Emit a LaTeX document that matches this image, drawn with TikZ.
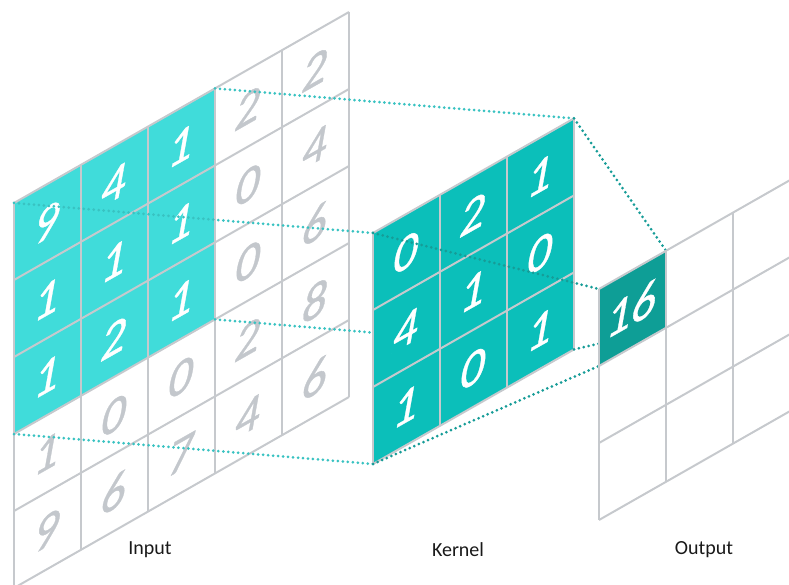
\documentclass[tikz,border=0pt]{standalone}
\usepackage{fontspec}
\setmainfont{Carlito}
\newfontfamily\digitfont{Carlito}[FakeBold=0.7]
\definecolor{gridgray}{HTML}{C6C9CD}
\definecolor{digitgray}{HTML}{C3C7CC}
\definecolor{inlight}{HTML}{40DCDA}
\definecolor{kernteal}{HTML}{0BBFBA}
\definecolor{outteal}{HTML}{0E9E96}
\definecolor{dotlight}{HTML}{38C2C1}
\definecolor{dotdark}{HTML}{169C97}
\tikzset{
  % each grid lies in a slanted plane: one column = 67 right and 38.2 up, one row = 77 down
  inframe/.style={shift={(14,203)}, x={(67pt,38.2pt)}, y={(0pt,-77pt)}},
  kframe/.style={shift={(373,233)}, x={(67pt,38.2pt)}, y={(0pt,-77pt)}},
  oframe/.style={shift={(599,289)}, x={(67pt,38.2pt)}, y={(0pt,-77pt)}},
  gridline/.style={draw=gridgray, line width=2pt},
  dig/.style={font=\digitfont\fontsize{49}{49}\selectfont, inner sep=0pt, yslant=0.567, xslant=0.2},
  digw/.style={dig, text=white},
  digg/.style={dig, text=digitgray},
  dotin/.style={draw=dotlight, line width=3pt, line cap=round, dash pattern=on 0pt off 5pt},
  dotout/.style={draw=dotdark, line width=3pt, line cap=round, dash pattern=on 0pt off 5pt},
  lab/.style={font=\fontsize{20}{24}\selectfont, text=black!90, inner sep=0pt},
}
\begin{document}
\begin{tikzpicture}[x=1pt, y=-1pt]
\useasboundingbox (0,0) rectangle (789,585);
\clip (0,0) rectangle (789,585);

% ---------- input 5x5 ----------
\begin{scope}[inframe]
  \fill[inlight] (0,0) -- (3,0) -- (3,3) -- (0,3) -- cycle;
  \foreach \i in {0,...,5} {
    \draw[gridline] (\i,0) -- (\i,5);
    \draw[gridline] (0,\i) -- (5,\i);
  }
  \foreach \c/\r/\v in {0/0/9,1/0/4,2/0/1,0/1/1,1/1/1,2/1/1,0/2/1,1/2/2,2/2/1}
    \node[digw] (in-\c-\r) at (\c+0.5,\r+0.5) {\v};
  \foreach \c/\r/\v in {3/0/2,4/0/2,3/1/0,4/1/4,3/2/0,4/2/6,
                        0/3/1,1/3/0,2/3/0,3/3/2,4/3/8,
                        0/4/9,1/4/6,2/4/7,3/4/4,4/4/6}
    \node[digg] (in-\c-\r) at (\c+0.5,\r+0.5) {\v};
  \coordinate (in-tl) at (0,0);
  \coordinate (in-tr) at (3,0);
  \coordinate (in-br) at (3,3);
  \coordinate (in-bl) at (0,3);
\end{scope}

% corners of the kernel and of the output cell
\begin{scope}[kframe]
  \coordinate (k-tl) at (0,0);
  \coordinate (k-tr) at (3,0);
  \coordinate (k-br) at (3,3);
  \coordinate (k-bl) at (0,3);
\end{scope}
\begin{scope}[oframe]
  \coordinate (o-tl) at (0,0);
  \coordinate (o-tr) at (1,0);
  \coordinate (o-br) at (1,1);
  \coordinate (o-bl) at (0,1);
\end{scope}

% ---------- receptive field to kernel ----------
\draw[dotin] (in-tl) -- (k-tl);
\draw[dotin] (in-tr) -- (k-tr);
\draw[dotin] (in-br) -- (k-br);
\draw[dotin] (in-bl) -- (k-bl);

% ---------- kernel 3x3 ----------
\begin{scope}[kframe]
  \fill[kernteal] (0,0) -- (3,0) -- (3,3) -- (0,3) -- cycle;
  \foreach \i in {0,...,3} {
    \draw[gridline] (\i,0) -- (\i,3);
    \draw[gridline] (0,\i) -- (3,\i);
  }
  \foreach \c/\r/\v in {0/0/0,1/0/2,2/0/1,0/1/4,1/1/1,2/1/0,0/2/1,1/2/0,2/2/1}
    \node[digw] (k-\c-\r) at (\c+0.5,\r+0.5) {\v};
\end{scope}

% ---------- kernel to output cell ----------
\draw[dotout] (k-tl) -- (o-tl);
\draw[dotout] (k-tr) -- (o-tr);
\draw[dotout] (k-br) -- (o-br);
\draw[dotout] (k-bl) -- (o-bl);

% ---------- output 3x3 ----------
\begin{scope}[oframe]
  \fill[outteal] (0,0) -- (1,0) -- (1,1) -- (0,1) -- cycle;
  \foreach \i in {0,...,3} {
    \draw[gridline] (\i,0) -- (\i,3);
    \draw[gridline] (0,\i) -- (3,\i);
  }
  \node[digw] (o-0-0) at (0.5,0.5) {16};
\end{scope}

% ---------- captions ----------
\node[lab] (lab-in) at (150,550) {Input};
\node[lab] (lab-k) at (458,550) {Kernel};
\node[lab] (lab-o) at (704,550) {Output};
\end{tikzpicture}
\end{document}
